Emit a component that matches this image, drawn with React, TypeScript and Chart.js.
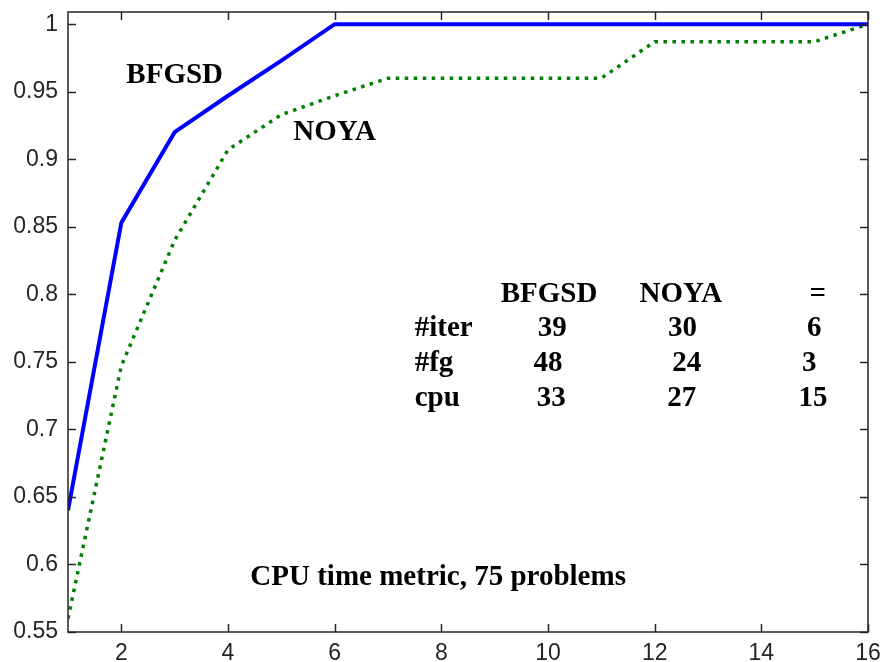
import React, { useEffect, useRef } from "react";
import { Chart, registerables } from "chart.js";

Chart.register(...registerables);

const xValues = [1, 2, 3, 4, 5, 6, 7, 8, 9, 10, 11, 12, 13, 14, 15, 16];
const bfgsdValues = [0.64, 0.853, 0.92, 0.947, 0.973, 1, 1, 1, 1, 1, 1, 1, 1, 1, 1, 1];
const noyaValues = [0.56, 0.747, 0.84, 0.907, 0.933, 0.947, 0.96, 0.96, 0.96, 0.96, 0.96, 0.987, 0.987, 0.987, 0.987, 1];
const xTicks = [2, 4, 6, 8, 10, 12, 14, 16];
const yTicks = [0.55, 0.6, 0.65, 0.7, 0.75, 0.8, 0.85, 0.9, 0.95, 1];
const xMin = 1;
const xMax = 16;
const yMin = 0.55;
const yMax = 1.009;

// Text annotations placed in data coordinates
const annotations = [
  { text: "BFGSD", x: 3.0, y: 0.962 },
  { text: "NOYA", x: 6.0, y: 0.92 },
  { text: "BFGSD", x: 10.02, y: 0.8 },
  { text: "NOYA", x: 12.49, y: 0.8 },
  { text: "=", x: 15.06, y: 0.8 },
  { text: "#iter", x: 7.5, y: 0.775, align: "left" },
  { text: "39", x: 10.08, y: 0.775 },
  { text: "30", x: 12.52, y: 0.775 },
  { text: "6", x: 14.99, y: 0.775 },
  { text: "#fg", x: 7.5, y: 0.749, align: "left" },
  { text: "48", x: 10.0, y: 0.749 },
  { text: "24", x: 12.6, y: 0.749 },
  { text: "3", x: 14.9, y: 0.749 },
  { text: "cpu", x: 7.5, y: 0.723, align: "left" },
  { text: "33", x: 10.06, y: 0.723 },
  { text: "27", x: 12.51, y: 0.723 },
  { text: "15", x: 14.97, y: 0.723 },
  { text: "CPU time metric, 75 problems", x: 7.94, y: 0.5907 },
];

const boxPlugin = {
  id: "matlabBox",
  afterDraw(chart: any) {
    const { ctx, chartArea, scales } = chart;
    const { left, right, top, bottom } = chartArea;
    ctx.save();
    ctx.strokeStyle = "#262626";
    ctx.lineWidth = 1.5;
    ctx.strokeRect(left, top, right - left, bottom - top);
    const tl = 8;
    ctx.beginPath();
    for (const v of xTicks) {
      const px = Math.round(scales.x.getPixelForValue(v)) + 0.5;
      ctx.moveTo(px, bottom);
      ctx.lineTo(px, bottom - tl);
      ctx.moveTo(px, top);
      ctx.lineTo(px, top + tl);
    }
    for (const v of yTicks) {
      const py = Math.round(scales.y.getPixelForValue(v)) + 0.5;
      ctx.moveTo(left, py);
      ctx.lineTo(left + tl, py);
      ctx.moveTo(right, py);
      ctx.lineTo(right - tl, py);
    }
    ctx.stroke();

    ctx.fillStyle = "#000";
    ctx.font = 'bold 29px "Liberation Serif", "Times New Roman", serif';
    ctx.textBaseline = "middle";
    for (const a of annotations) {
      ctx.textAlign = (a as any).align || "center";
      ctx.fillText(a.text, scales.x.getPixelForValue(a.x), scales.y.getPixelForValue(a.y));
    }
    ctx.restore();
  },
};

const zeroPad = (s: any) => {
  s.paddingTop = 0;
  s.paddingBottom = 0;
  s.paddingLeft = 0;
  s.paddingRight = 0;
};

export default function App() {
  const ref = useRef<HTMLCanvasElement | null>(null);
  useEffect(() => {
    if (!ref.current) return;
    const chart = new Chart(ref.current, {
      type: "line",
      data: {
        datasets: [
          {
            label: "BFGSD",
            data: xValues.map((x, i) => ({ x, y: bfgsdValues[i] })),
            borderColor: "#0000ff",
            borderWidth: 4,
            pointRadius: 0,
            tension: 0,
            fill: false,
          },
          {
            label: "NOYA",
            data: xValues.map((x, i) => ({ x, y: noyaValues[i] })),
            borderColor: "#008000",
            borderWidth: 3.5,
            borderDash: [3.5, 5.5],
            pointRadius: 0,
            tension: 0,
            fill: false,
          },
        ],
      },
      options: {
        responsive: false,
        animation: false,
        layout: { padding: { top: 12, right: 18, bottom: 0, left: 0 } },
        plugins: { legend: { display: false }, tooltip: { enabled: false } },
        scales: {
          x: {
            type: "linear",
            min: xMin,
            max: xMax,
            grid: { display: false, drawTicks: false },
            border: { display: false },
            afterBuildTicks: (s: any) => {
              s.ticks = xTicks.map((v) => ({ value: v }));
            },
            afterFit: (s: any) => {
              s.height = 30;
              zeroPad(s);
            },
            ticks: {
              padding: 8,
              color: "#262626",
              font: { family: '"Liberation Sans", Arial, sans-serif', size: 23 },
              maxRotation: 0,
              autoSkip: false,
              callback: (v: any) => String(v),
            },
          },
          y: {
            type: "linear",
            min: yMin,
            max: yMax,
            grid: { display: false, drawTicks: false },
            border: { display: false },
            afterBuildTicks: (s: any) => {
              s.ticks = yTicks.map((v) => ({ value: v }));
            },
            afterFit: (s: any) => {
              s.width = 68;
              zeroPad(s);
            },
            ticks: {
              padding: 10,
              color: "#262626",
              font: { family: '"Liberation Sans", Arial, sans-serif', size: 23 },
              autoSkip: false,
              callback: (v: any) => String(Number(Number(v).toFixed(2))),
            },
          },
        },
      },
      plugins: [boxPlugin],
    });
    return () => chart.destroy();
  }, []);
  return (
    <canvas
      ref={ref}
      width={886}
      height={662}
      style={{ position: "fixed", left: 0, top: 0, display: "block", width: 886, height: 662, background: "#fff" }}
    />
  );
}
